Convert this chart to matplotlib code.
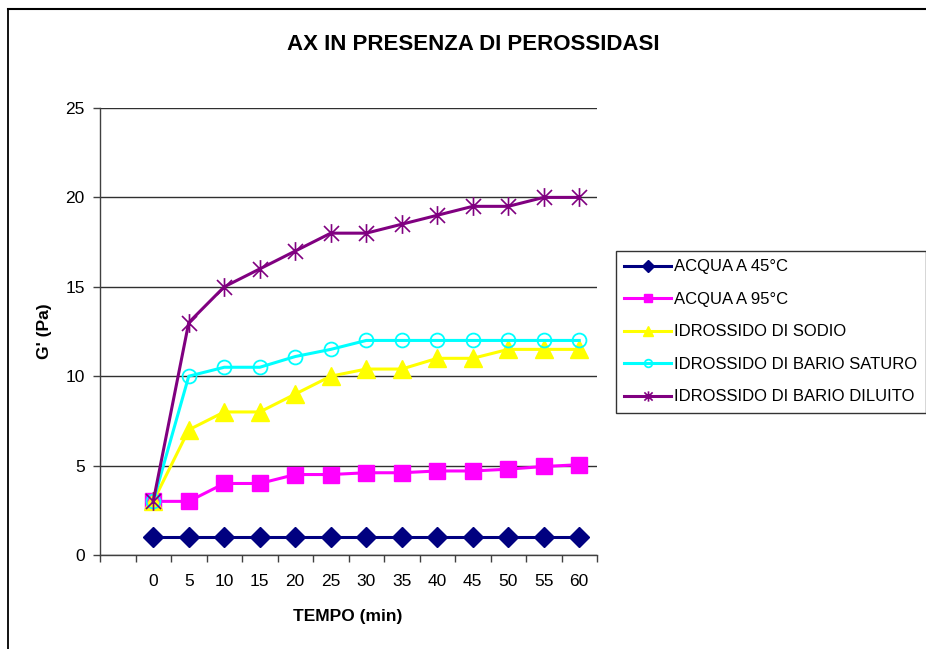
import numpy as np
import matplotlib
matplotlib.use("Agg")
import matplotlib.pyplot as plt
from matplotlib.path import Path
from matplotlib.lines import Line2D

plt.rcParams['font.family'] = ['Liberation Sans', 'DejaVu Sans']

# Data
tempo = [0, 5, 10, 15, 20, 25, 30, 35, 40, 45, 50, 55, 60]
acqua_45 = [1, 1, 1, 1, 1, 1, 1, 1, 1, 1, 1, 1, 1]
acqua_95 = [3, 3, 4, 4, 4.5, 4.5, 4.6, 4.6, 4.7, 4.7, 4.8, 4.95, 5.05]
idr_sodio = [3, 7, 8, 8, 9, 10, 10.4, 10.4, 11, 11, 11.5, 11.5, 11.5]
idr_bario_saturo = [3, 10, 10.5, 10.5, 11.1, 11.5, 12, 12, 12, 12, 12, 12, 12]
idr_bario_diluito = [3, 13, 15, 16, 17, 18, 18, 18.5, 19, 19.5, 19.5, 20, 20]

series_names = ["ACQUA A 45°C", "ACQUA A 95°C", "IDROSSIDO DI SODIO",
                "IDROSSIDO DI BARIO SATURO", "IDROSSIDO DI BARIO DILUITO"]
y_ticks = [0, 5, 10, 15, 20, 25]

# category axis: one empty slot before the first time value
cat_labels = [""] + [str(t) for t in tempo]
pos = np.arange(1, len(tempo) + 1)

# asterisk marker: vertical bar plus an X
star = Path([(0, -1), (0, 1), (-0.8, -0.8), (0.8, 0.8), (-0.8, 0.8), (0.8, -0.8)],
            [Path.MOVETO, Path.LINETO, Path.MOVETO, Path.LINETO, Path.MOVETO, Path.LINETO])

W, H = 926, 649
fig = plt.figure(figsize=(W / 100, H / 100), dpi=100)
ax = fig.add_axes([100 / W, 1 - 555 / H, 497 / W, 447 / H])

lw = 2.2
styles = [
    dict(color="#000080", marker="D", ms=10.5, mfc="#000080", mec="#000080"),
    dict(color="#FF00FF", marker="s", ms=11.5, mfc="#FF00FF", mec="#FF00FF"),
    dict(color="#FFFF00", marker="^", ms=13.5, mfc="#FFFF00", mec="#FFFF00"),
    dict(color="#00FFFF", marker="o", ms=10, mfc="none", mec="#00FFFF", mew=1.3),
    dict(color="#800080", marker=star, ms=13.5, mfc="none", mec="#800080", mew=1.2),
]
data = [acqua_45, acqua_95, idr_sodio, idr_bario_saturo, idr_bario_diluito]

handles = []
for vals, name, st in zip(data, series_names, styles):
    ax.plot(pos, vals, lw=lw, clip_on=False, zorder=3, **st)
    h_st = dict(st)
    h_st["ms"] = st["ms"] * 0.55
    handles.append(Line2D([], [], lw=lw, label=name, **h_st))

ax.set_xlim(-0.5, len(cat_labels) - 0.5)
ax.set_ylim(0, 25)

ax.set_xticks(np.arange(-0.5, len(cat_labels)), minor=False)
ax.set_xticklabels([])
ax.set_xticks(np.arange(len(cat_labels)), minor=True)
ax.set_xticklabels(cat_labels, minor=True, fontsize=12.5)
ax.tick_params(axis="x", which="major", length=5, width=1, color="#404040", direction="out")
ax.tick_params(axis="x", which="minor", length=0, pad=14)

ax.set_yticks(y_ticks)
ax.set_yticklabels([str(v) for v in y_ticks], fontsize=12.5)
ax.tick_params(axis="y", length=5, width=1, color="#404040", direction="out", pad=6)

ax.grid(axis="y", color="#303030", lw=1)
ax.set_axisbelow(True)
for s in ("top", "right"):
    ax.spines[s].set_visible(False)
for s in ("left", "bottom"):
    ax.spines[s].set_color("#404040")
    ax.spines[s].set_linewidth(1)

fig.text(473 / W, 1 - 44 / H, "AX IN PRESENZA DI PEROSSIDASI", ha="center", va="center",
         fontsize=16, fontweight="bold")
fig.text(348 / W, 1 - 617 / H, "TEMPO (min)", ha="center", va="center",
         fontsize=12.5, fontweight="bold")
fig.text(45 / W, 1 - 331 / H, "G' (Pa)", ha="center", va="center", rotation=90,
         fontsize=12.5, fontweight="bold")

leg = fig.legend(handles=handles, loc="upper left", bbox_to_anchor=(616 / W, 1 - 251 / H),
                 bbox_transform=fig.transFigure, borderaxespad=0, fontsize=12,
                 frameon=True, fancybox=False, edgecolor="black", handlelength=2.8,
                 handletextpad=0.2, labelspacing=1.05, borderpad=0.5)
leg.get_frame().set_linewidth(1)

# chart frame (left and top edges)
fig.add_artist(Line2D([7.5 / W, 7.5 / W], [0, 1 - 9 / H], transform=fig.transFigure,
                      color="black", lw=1.3))
fig.add_artist(Line2D([7.5 / W, 1], [1 - 9 / H, 1 - 9 / H], transform=fig.transFigure,
                      color="black", lw=1.5))

fig.savefig("out.png", dpi=100)
